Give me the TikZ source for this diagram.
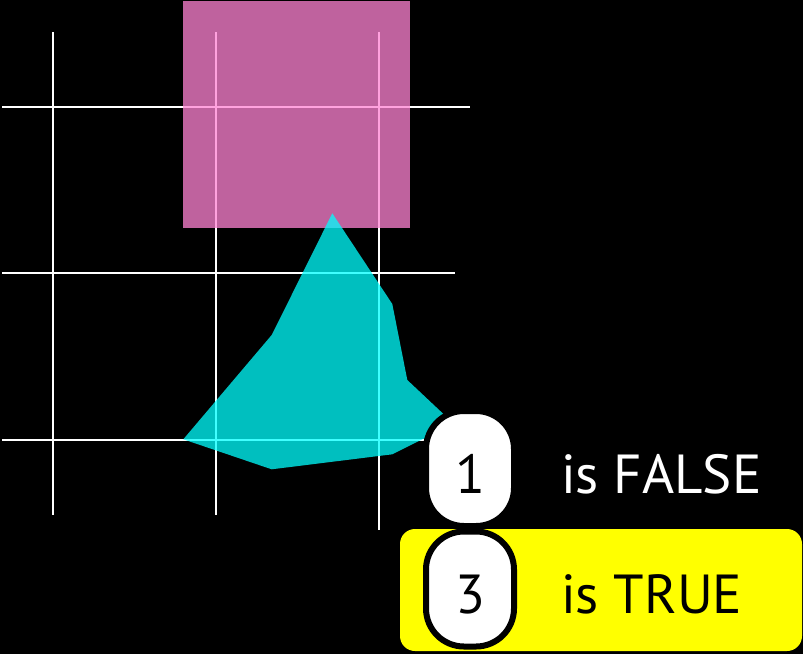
\documentclass[tikz,border=0pt]{standalone}
\usepackage{fontspec}
\setmainfont{PT Sans}
\definecolor{magfill}{RGB}{255,131,212}
\definecolor{cyfill}{RGB}{0,255,255}
\definecolor{yel}{RGB}{255,255,0}
\tikzset{
  gridline/.style={draw=white, line width=1.8pt},
  badge/.style={draw=black, fill=white, line width=6pt, minimum width=88pt, minimum height=115pt, rounded corners=38pt, inner sep=0pt},
  digit/.style={font=\fontsize{55}{60}\selectfont, inner sep=0pt},
  label/.style={font=\fontsize{55}{60}\selectfont, inner sep=0pt, anchor=base west}
}
\begin{document}
\begin{tikzpicture}[x=1pt,y=-1pt]
\fill[black] (0,0) rectangle (803,654);
\useasboundingbox (0,0) rectangle (803,654);
% grid
\draw[gridline] (53,32) -- (53,515);
\draw[gridline] (216,32) -- (216,515);
\draw[gridline] (379,32) -- (379,530);
\draw[gridline] (2,107) -- (470,107);
\draw[gridline] (2,273) -- (455,273);
\draw[gridline] (2,440) -- (440,440);
% magenta square
\fill[magfill, fill opacity=0.75] (183,1) rectangle (410,228);
% cyan polygon
\fill[cyfill, fill opacity=0.75] (332.3,213.3) -- (392.3,304) -- (407.3,380) -- (442.7,413.3)
  -- (455,428) -- (422.3,439.3) -- (392.3,454.3) -- (271.7,469.3) -- (183.3,439.3) -- (271.7,335) -- cycle;
% yellow highlight
\fill[yel, rounded corners=15pt] (400,529) rectangle (802,651);
% badges
\node[badge] (b1) at (470,468.5) {};
\node[badge] (b3) at (470,589) {};
\node[digit, anchor=base, text=black] (d1) at (470,493) {1};
\node[digit, anchor=base, text=black] (d3) at (470,613) {3};
\node[label, text=white] (t1) at (561,493) {is FALSE};
\node[label, text=black] (t3) at (561,613) {is TRUE};
\end{tikzpicture}
\end{document}
